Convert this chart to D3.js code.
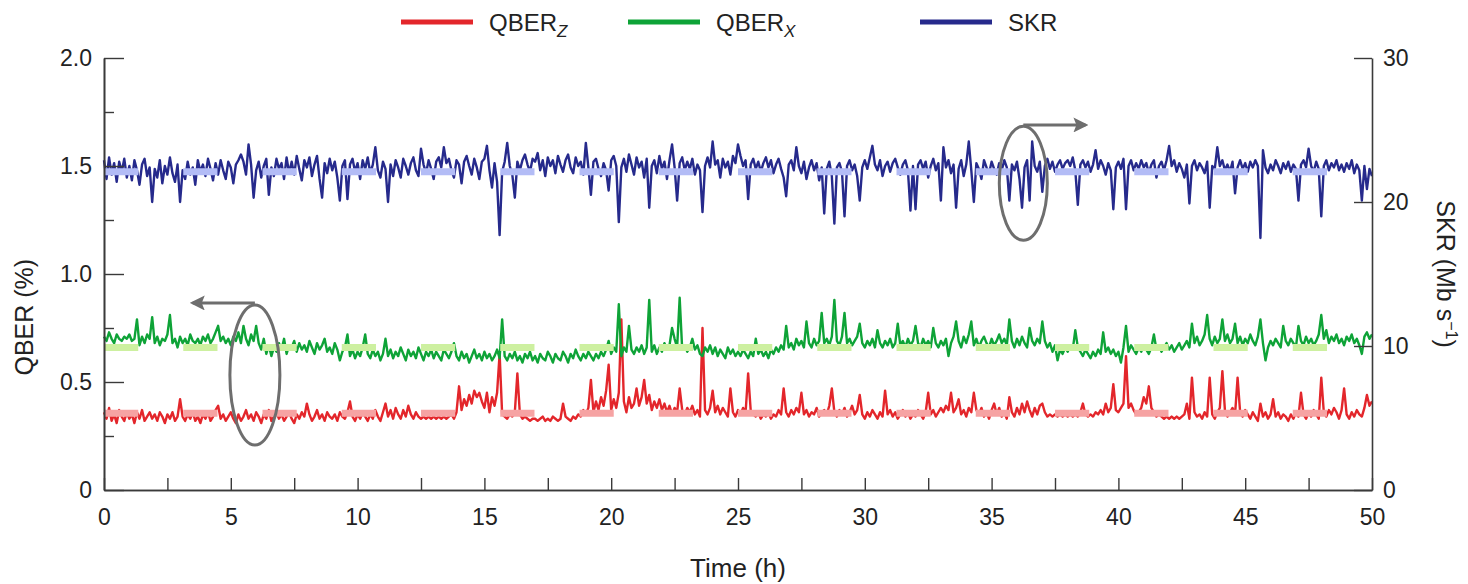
<!DOCTYPE html>
<html>
<head>
<meta charset="utf-8">
<script src="https://cdn.jsdelivr.net/npm/d3@7"></script>
<style>
  body { margin: 0; background: #fff; }
  svg text { font-family: "Liberation Sans", Arial, sans-serif; fill: #222; }
</style>
</head>
<body>
<div id="chart"></div>
<script>
// hours between two samples
const timeStep = 0.1;

// secret key rate, Mb/s (right axis), one row per hour
const skr = [
  22.9, 21.6, 23.1, 21.9, 22.7, 21.4, 22.8, 22.1, 23.0, 21.7,
  22.5, 21.5, 22.9, 22.2, 21.2, 22.6, 23.0, 21.8, 22.4, 20.0,
  22.3, 21.7, 22.9, 21.3, 22.5, 21.9, 23.1, 22.0, 21.4, 22.6,
  20.0, 22.2, 21.6, 22.8, 21.9, 22.4, 21.2, 22.9, 22.1, 22.6,
  21.8, 23.0, 22.3, 21.5, 22.7, 21.9, 22.9, 22.2, 21.6, 22.8,
  22.4, 21.3, 22.6, 22.9, 23.3, 22.8, 21.9, 24.0, 22.6, 20.3,
  22.2, 22.8, 21.7, 22.5, 23.0, 20.5, 22.4, 21.8, 23.0, 22.3,
  22.7, 21.6, 23.1, 22.0, 22.8, 21.9, 23.2, 22.3, 21.5, 22.9,
  22.4, 23.1, 21.8, 22.6, 23.2, 21.6, 20.3, 22.7, 22.0, 23.0,
  22.2, 22.8, 21.7, 20.1, 22.5, 22.9, 20.2, 22.6, 23.0, 22.1,
  22.7, 21.6, 22.9, 22.3, 23.1, 22.0, 22.6, 23.8, 22.2, 21.7,
  22.8, 22.3, 20.0, 22.6, 21.8, 22.9, 22.4, 21.7, 23.0, 22.5,
  21.9, 22.7, 23.1, 22.2, 21.8, 23.7, 22.6, 22.0, 22.9, 22.3,
  21.6, 22.8, 23.1, 22.4, 23.8, 22.7, 23.0, 22.2, 21.7, 22.9,
  22.6, 21.3, 22.8, 23.2, 22.5, 21.9, 23.0, 22.4, 21.6, 22.8,
  23.0, 23.9, 22.2, 21.0, 22.7, 21.4, 17.7, 22.1, 22.8, 24.1,
  22.5, 21.9, 20.3, 22.8, 22.2, 22.9, 23.3, 22.6, 22.1, 23.0,
  22.8, 23.4, 22.2, 22.9, 21.8, 23.1, 22.5, 22.9, 22.0, 23.2,
  22.6, 22.1, 22.9, 23.3, 22.4, 22.0, 23.1, 22.5, 22.8, 21.9,
  24.1, 22.4, 20.5, 22.8, 23.0, 22.3, 21.8, 22.7, 22.2, 20.8,
  22.9, 23.2, 22.5, 18.6, 22.4, 23.0, 22.1, 23.3, 22.6, 21.9,
  23.1, 22.4, 22.8, 21.7, 23.0, 19.6, 22.5, 22.9, 22.0, 23.2,
  22.3, 22.8, 21.6, 22.9, 24.0, 22.4, 20.1, 22.7, 23.1, 22.2,
  22.8, 22.3, 23.0, 21.9, 22.6, 22.2, 19.3, 22.5, 23.1, 22.4,
  24.2, 22.6, 22.9, 21.7, 23.0, 22.4, 22.8, 21.9, 23.2, 22.7,
  24.0, 23.2, 22.5, 22.9, 20.2, 22.6, 23.0, 22.3, 22.8, 22.1,
  22.7, 23.1, 22.4, 22.9, 22.0, 22.6, 23.0, 22.3, 21.7, 20.4,
  22.6, 22.9, 22.2, 23.8, 22.5, 22.0, 22.8, 21.6, 22.4, 22.9,
  22.2, 22.7, 21.5, 22.4, 19.2, 22.3, 22.8, 21.8, 18.5, 22.4,
  22.7, 22.1, 19.0, 22.5, 22.9, 22.2, 22.6, 21.8, 20.1, 22.4,
  22.9, 22.3, 23.1, 23.9, 22.6, 22.2, 22.9, 21.8, 22.5, 22.8,
  22.1, 22.7, 23.0, 22.4, 21.9, 22.6, 22.9, 22.2, 19.4, 22.5,
  19.5, 22.6, 22.9, 22.3, 22.8, 21.7, 22.5, 23.0, 22.2, 22.7,
  20.1, 23.8, 22.4, 22.9, 22.0, 22.6, 19.6, 22.3, 22.9, 21.8,
  22.6, 24.2, 22.2, 20.0, 22.7, 22.3, 21.6, 22.9, 22.4, 22.0,
  22.8, 22.3, 21.9, 22.7, 22.2, 22.9, 22.4, 20.1, 22.6, 22.2,
  22.8, 21.6, 19.6, 22.4, 22.9, 20.1, 24.2, 22.5, 22.1, 22.8,
  20.7, 22.5, 23.0, 22.3, 22.8, 22.1, 22.6, 22.9, 22.3, 22.7,
  22.9, 22.5, 23.1, 22.2, 19.8, 22.6, 22.9, 22.4, 22.8, 22.1,
  22.6, 23.6, 22.3, 22.9, 22.5, 21.9, 22.7, 22.2, 19.5, 22.4,
  22.8, 22.3, 23.0, 19.5, 22.5, 22.9, 22.2, 22.7, 22.3, 22.9,
  22.4, 22.7, 22.0, 22.6, 22.9, 21.7, 22.5, 22.8, 22.2, 22.9,
  23.9, 22.5, 22.9, 22.1, 22.7, 22.3, 21.7, 22.6, 19.9, 22.5,
  22.9, 22.2, 22.7, 22.4, 22.0, 22.8, 19.6, 22.5, 22.3, 23.8,
  22.5, 22.9, 22.2, 22.6, 22.1, 22.8, 20.6, 22.4, 22.9, 22.3,
  22.7, 22.1, 22.8, 22.4, 22.9, 22.5, 17.5, 23.6, 22.4, 22.0,
  22.6, 22.2, 22.9, 22.5, 22.0, 22.7, 22.3, 22.8, 22.1, 22.6,
  22.3, 20.1, 22.6, 22.9, 22.4, 23.7, 22.5, 22.1, 22.8, 22.3,
  19.0, 22.5, 22.9, 22.2, 22.7, 22.4, 22.9, 22.2, 22.6, 22.1,
  22.7, 22.3, 22.9, 22.0, 22.6, 22.2, 20.1, 22.5, 20.9, 22.3,
  21.8
];

// QBER in the X basis, %
const qberX = [
  0.71, 0.69, 0.73, 0.70, 0.68, 0.72, 0.70, 0.69, 0.71, 0.70,
  0.72, 0.69, 0.70, 0.79, 0.67, 0.71, 0.68, 0.72, 0.70, 0.80,
  0.68, 0.71, 0.67, 0.70, 0.69, 0.72, 0.81, 0.68, 0.70, 0.66,
  0.71, 0.68, 0.70, 0.67, 0.72, 0.69, 0.68, 0.70, 0.67, 0.71,
  0.69, 0.72, 0.68, 0.70, 0.73, 0.76, 0.69, 0.71, 0.68, 0.70,
  0.67, 0.71, 0.69, 0.73, 0.68, 0.76, 0.70, 0.67, 0.72, 0.69,
  0.76, 0.68, 0.65, 0.70, 0.63, 0.67, 0.62, 0.66, 0.64, 0.68,
  0.65, 0.70, 0.63, 0.67, 0.66, 0.69, 0.64, 0.68, 0.65, 0.67,
  0.64, 0.69, 0.66, 0.63, 0.68, 0.65, 0.67, 0.70, 0.64, 0.66,
  0.63, 0.68, 0.65, 0.60, 0.64, 0.66, 0.72, 0.62, 0.65, 0.61,
  0.64, 0.62, 0.66, 0.72, 0.63, 0.61, 0.65, 0.62, 0.64, 0.60,
  0.63, 0.70, 0.62, 0.65, 0.61, 0.64, 0.62, 0.66, 0.63, 0.60,
  0.65, 0.62, 0.64, 0.61, 0.66, 0.63, 0.60, 0.64, 0.62, 0.65,
  0.61, 0.64, 0.62, 0.60, 0.65, 0.63, 0.61, 0.64, 0.68, 0.62,
  0.60, 0.64, 0.61, 0.63, 0.59, 0.62, 0.65, 0.61, 0.63, 0.60,
  0.64, 0.61, 0.63, 0.60, 0.62, 0.65, 0.61, 0.79, 0.62, 0.60,
  0.63, 0.61, 0.64, 0.60, 0.62, 0.59, 0.63, 0.61, 0.64, 0.60,
  0.62, 0.59, 0.63, 0.61, 0.60, 0.64, 0.62, 0.59, 0.63, 0.61,
  0.60, 0.64, 0.62, 0.59, 0.63, 0.61, 0.65, 0.62, 0.60, 0.63,
  0.61, 0.64, 0.62, 0.60, 0.63, 0.61, 0.64, 0.62, 0.65, 0.69,
  0.63, 0.66, 0.64, 0.86, 0.62, 0.66, 0.64, 0.76, 0.65, 0.63,
  0.66, 0.64, 0.67, 0.63, 0.66, 0.88, 0.64, 0.67, 0.63, 0.66,
  0.64, 0.68, 0.65, 0.67, 0.75, 0.70, 0.66, 0.89, 0.65, 0.67,
  0.64, 0.66, 0.70, 0.65, 0.67, 0.63, 0.62, 0.66, 0.64, 0.67,
  0.63, 0.66, 0.62, 0.65, 0.63, 0.61, 0.66, 0.63, 0.65, 0.62,
  0.64, 0.62, 0.65, 0.63, 0.61, 0.64, 0.62, 0.70, 0.63, 0.65,
  0.62, 0.64, 0.61, 0.65, 0.63, 0.66, 0.64, 0.67, 0.65, 0.76,
  0.66, 0.68, 0.65, 0.70, 0.67, 0.69, 0.66, 0.78, 0.68, 0.66,
  0.70, 0.67, 0.69, 0.82, 0.68, 0.70, 0.67, 0.71, 0.88, 0.69,
  0.67, 0.71, 0.82, 0.68, 0.70, 0.67, 0.69, 0.71, 0.77, 0.68,
  0.66, 0.69, 0.67, 0.70, 0.66, 0.74, 0.68, 0.66, 0.69, 0.67,
  0.70, 0.66, 0.68, 0.77, 0.67, 0.69, 0.66, 0.70, 0.67, 0.69,
  0.76, 0.68, 0.66, 0.70, 0.67, 0.69, 0.66, 0.75, 0.68, 0.66,
  0.69, 0.67, 0.70, 0.62, 0.68, 0.71, 0.78, 0.69, 0.66, 0.71,
  0.68, 0.72, 0.78, 0.67, 0.70, 0.66, 0.69, 0.71, 0.68, 0.66,
  0.70, 0.67, 0.69, 0.72, 0.68, 0.70, 0.67, 0.79, 0.69, 0.66,
  0.70, 0.67, 0.71, 0.68, 0.66, 0.75, 0.69, 0.67, 0.70, 0.68,
  0.78, 0.69, 0.66, 0.68, 0.64, 0.67, 0.60, 0.65, 0.63, 0.66,
  0.64, 0.67, 0.65, 0.74, 0.66, 0.64, 0.62, 0.65, 0.63, 0.61,
  0.64, 0.62, 0.65, 0.63, 0.73, 0.64, 0.66, 0.63, 0.65, 0.62,
  0.64, 0.59, 0.66, 0.76, 0.64, 0.67, 0.65, 0.63, 0.66, 0.64,
  0.67, 0.65, 0.63, 0.66, 0.72, 0.65, 0.67, 0.64, 0.66, 0.68,
  0.65, 0.67, 0.64, 0.66, 0.68, 0.65, 0.67, 0.69, 0.66, 0.77,
  0.68, 0.71, 0.67, 0.69, 0.72, 0.81, 0.70, 0.67, 0.71, 0.68,
  0.70, 0.79, 0.69, 0.72, 0.68, 0.70, 0.77, 0.68, 0.71, 0.67,
  0.70, 0.68, 0.72, 0.69, 0.67, 0.71, 0.79, 0.68, 0.60, 0.66,
  0.69, 0.67, 0.70, 0.68, 0.66, 0.76, 0.69, 0.67, 0.70, 0.68,
  0.66, 0.76, 0.69, 0.67, 0.71, 0.68, 0.70, 0.67, 0.69, 0.72,
  0.81, 0.70, 0.74, 0.68, 0.71, 0.69, 0.72, 0.68, 0.70, 0.67,
  0.71, 0.69, 0.72, 0.68, 0.70, 0.67, 0.63, 0.71, 0.73, 0.70,
  0.72
];

// QBER in the Z basis, %
const qberZ = [
  0.36, 0.33, 0.38, 0.32, 0.35, 0.31, 0.37, 0.34, 0.32, 0.36,
  0.33, 0.35, 0.31, 0.36, 0.33, 0.37, 0.32, 0.34, 0.36, 0.33,
  0.35, 0.32, 0.36, 0.34, 0.31, 0.35, 0.33, 0.36, 0.32, 0.34,
  0.42, 0.34, 0.32, 0.35, 0.33, 0.36, 0.32, 0.34, 0.31, 0.35,
  0.33, 0.36, 0.32, 0.34, 0.37, 0.39, 0.33, 0.35, 0.32, 0.34,
  0.36, 0.33, 0.31, 0.35, 0.32, 0.34, 0.37, 0.33, 0.35, 0.32,
  0.36, 0.34, 0.31, 0.35, 0.33, 0.37, 0.32, 0.34, 0.36, 0.33,
  0.35, 0.32, 0.34, 0.36, 0.33, 0.31, 0.35, 0.33, 0.36, 0.34,
  0.40, 0.35, 0.32, 0.34, 0.37, 0.33, 0.35, 0.32, 0.36, 0.34,
  0.33, 0.35, 0.32, 0.36, 0.34, 0.33, 0.36, 0.41, 0.34, 0.32,
  0.35, 0.33, 0.36, 0.34, 0.32, 0.35, 0.33, 0.37, 0.34, 0.32,
  0.36, 0.40, 0.34, 0.37, 0.33, 0.38, 0.35, 0.33, 0.37, 0.34,
  0.39, 0.35, 0.33, 0.36, 0.34, 0.33, 0.34, 0.33, 0.34, 0.33,
  0.34, 0.33, 0.34, 0.33, 0.34, 0.33, 0.34, 0.35, 0.33, 0.36,
  0.48, 0.37, 0.42, 0.39, 0.44, 0.40, 0.46, 0.43, 0.45, 0.41,
  0.38, 0.45, 0.36, 0.43, 0.39, 0.45, 0.63, 0.35, 0.34, 0.33,
  0.35, 0.34, 0.36, 0.54, 0.35, 0.33, 0.34, 0.33, 0.32, 0.33,
  0.33, 0.32, 0.33, 0.34, 0.32, 0.33, 0.32, 0.34, 0.33, 0.32,
  0.33, 0.40, 0.34, 0.33, 0.32, 0.34, 0.33, 0.35, 0.34, 0.37,
  0.35, 0.38, 0.51, 0.36, 0.41, 0.37, 0.43, 0.39, 0.46, 0.58,
  0.37, 0.42, 0.38, 0.45, 0.79, 0.41, 0.36, 0.43, 0.38, 0.40,
  0.47, 0.39, 0.43, 0.51, 0.40, 0.44, 0.37, 0.41, 0.38, 0.42,
  0.37, 0.40, 0.36, 0.39, 0.35, 0.38, 0.36, 0.47, 0.37, 0.35,
  0.38, 0.36, 0.39, 0.35, 0.37, 0.34, 0.75, 0.37, 0.35, 0.38,
  0.46, 0.36, 0.39, 0.35, 0.38, 0.36, 0.34, 0.47, 0.36, 0.34,
  0.37, 0.35, 0.38, 0.36, 0.54, 0.37, 0.35, 0.34, 0.36, 0.33,
  0.35, 0.34, 0.36, 0.33, 0.35, 0.34, 0.37, 0.35, 0.47, 0.36,
  0.34, 0.37, 0.35, 0.38, 0.36, 0.45, 0.35, 0.37, 0.34, 0.36,
  0.35, 0.38, 0.34, 0.36, 0.37, 0.35, 0.39, 0.47, 0.36, 0.34,
  0.37, 0.35, 0.38, 0.34, 0.36, 0.39, 0.35, 0.37, 0.44, 0.35,
  0.33, 0.36, 0.34, 0.37, 0.35, 0.33, 0.36, 0.34, 0.46, 0.35,
  0.37, 0.34, 0.36, 0.33, 0.35, 0.37, 0.34, 0.36, 0.33, 0.35,
  0.34, 0.37, 0.35, 0.33, 0.36, 0.45, 0.35, 0.37, 0.34, 0.36,
  0.38, 0.36, 0.39, 0.37, 0.45, 0.36, 0.38, 0.42, 0.35, 0.37,
  0.34, 0.38, 0.36, 0.45, 0.37, 0.35, 0.38, 0.34, 0.36, 0.33,
  0.37, 0.40, 0.35, 0.38, 0.34, 0.36, 0.33, 0.43, 0.36, 0.34,
  0.38, 0.35, 0.40, 0.36, 0.41, 0.37, 0.34, 0.38, 0.35, 0.39,
  0.40, 0.36, 0.34, 0.35, 0.34, 0.35, 0.34, 0.35, 0.34, 0.35,
  0.34, 0.35, 0.34, 0.35, 0.34, 0.36, 0.40, 0.35, 0.34, 0.35,
  0.34, 0.36, 0.35, 0.37, 0.35, 0.40, 0.36, 0.38, 0.49, 0.37,
  0.36, 0.38, 0.40, 0.62, 0.38, 0.40, 0.37, 0.35, 0.36, 0.38,
  0.43, 0.40, 0.48, 0.38, 0.36, 0.34, 0.35, 0.34, 0.33, 0.34,
  0.33, 0.34, 0.33, 0.34, 0.33, 0.34, 0.35, 0.40, 0.33, 0.52,
  0.36, 0.34, 0.35, 0.33, 0.36, 0.34, 0.52, 0.35, 0.33, 0.36,
  0.38, 0.55, 0.37, 0.34, 0.36, 0.38, 0.35, 0.52, 0.36, 0.34,
  0.37, 0.35, 0.33, 0.36, 0.34, 0.32, 0.40, 0.34, 0.36, 0.33,
  0.35, 0.42, 0.34, 0.36, 0.33, 0.35, 0.34, 0.32, 0.35, 0.33,
  0.36, 0.34, 0.45, 0.35, 0.33, 0.36, 0.34, 0.37, 0.35, 0.33,
  0.52, 0.36, 0.34, 0.37, 0.35, 0.38, 0.36, 0.33, 0.37, 0.47,
  0.35, 0.33, 0.36, 0.34, 0.37, 0.35, 0.34, 0.38, 0.44, 0.39,
  0.41
];

// light bars: start of each averaging window (h), its length and mean levels
const windowStarts = [0, 3.125, 6.25, 9.375, 12.5, 15.625, 18.75, 21.875,
                      25, 28.125, 31.25, 34.375, 37.5, 40.625, 43.75, 46.875];
const windowLength = 1.35;
const skrMean = 22.1;
const qberXMean = 0.66;
const qberZMean = 0.355;

const xTicks = [0, 5, 10, 15, 20, 25, 30, 35, 40, 45, 50];
const xMinorTicks = [2.5, 7.5, 12.5, 17.5, 22.5, 27.5, 32.5, 37.5, 42.5, 47.5];
const qberTicks = [0, 0.5, 1.0, 1.5, 2.0];
const qberMinorTicks = [0.25, 0.75, 1.25, 1.75];
const skrTicks = [0, 10, 20, 30];

const width = 1468, height = 584;
const margin = {top: 58, right: 96, bottom: 94, left: 104};
const innerW = width - margin.left - margin.right;
const innerH = height - margin.top - margin.bottom;

const svg = d3.select("#chart").append("svg")
    .attr("width", width)
    .attr("height", height);

const g = svg.append("g")
    .attr("transform", "translate(" + margin.left + "," + margin.top + ")");

const x = d3.scaleLinear().domain([0, 50]).range([0, innerW]);
const yL = d3.scaleLinear().domain([0, 2]).range([innerH, 0]);
const yR = d3.scaleLinear().domain([0, 30]).range([innerH, 0]);

const axisColor = "#3a3a3a";

// series
function drawSeries(values, scale, color) {
    const line = d3.line()
        .x(function(d, i) { return x(i * timeStep); })
        .y(function(d) { return scale(d); });
    g.append("path")
        .datum(values)
        .attr("fill", "none")
        .attr("stroke", color)
        .attr("stroke-width", 2.4)
        .attr("stroke-linejoin", "round")
        .attr("d", line);
}

drawSeries(qberZ, yL, "#e3262b");
drawSeries(qberX, yL, "#0ea337");
drawSeries(skr, yR, "#262a8c");

// averaged windows on top of the traces
function drawWindows(level, scale, color) {
    g.selectAll(null)
        .data(windowStarts)
        .enter()
        .append("line")
        .attr("x1", function(d) { return x(d); })
        .attr("x2", function(d) { return x(d + windowLength); })
        .attr("y1", scale(level))
        .attr("y2", scale(level))
        .attr("stroke", color)
        .attr("stroke-width", 7);
}

drawWindows(qberZMean, yL, "#f6a3a3");
drawWindows(qberXMean, yL, "#cdf0a0");
drawWindows(skrMean, yR, "#b3bcf6");

// axes
const bottomMinor = g.append("g")
    .attr("transform", "translate(0," + innerH + ")")
    .call(d3.axisBottom(x).tickValues(xMinorTicks).tickSize(-12).tickSizeOuter(0).tickFormat(""));
const bottom = g.append("g")
    .attr("transform", "translate(0," + innerH + ")")
    .call(d3.axisBottom(x).tickValues(xTicks).tickSize(-12).tickSizeOuter(0).tickPadding(19)
        .tickFormat(d3.format("d")));

const leftMinor = g.append("g")
    .call(d3.axisLeft(yL).tickValues(qberMinorTicks).tickSize(-10).tickSizeOuter(0).tickFormat(""));
const left = g.append("g")
    .call(d3.axisLeft(yL).tickValues(qberTicks).tickSize(-20).tickSizeOuter(0).tickPadding(12)
        .tickFormat(function(d) { return d === 0 ? "0" : d3.format(".1f")(d); }));

const right = g.append("g")
    .attr("transform", "translate(" + innerW + ",0)")
    .call(d3.axisRight(yR).tickValues(skrTicks).tickSize(-18).tickSizeOuter(0).tickPadding(11)
        .tickFormat(d3.format("d")));

[bottomMinor, bottom, leftMinor, left, right].forEach(function(a) {
    a.selectAll("path").attr("stroke", axisColor).attr("stroke-width", 1.6);
    a.selectAll("line").attr("stroke", axisColor).attr("stroke-width", 1.4);
    a.selectAll("text").attr("font-size", 23).attr("fill", "#222")
        .attr("font-family", "'Liberation Sans', Arial, sans-serif");
});

// axis titles
svg.append("text")
    .attr("x", margin.left + innerW / 2)
    .attr("y", 577)
    .attr("text-anchor", "middle")
    .attr("font-size", 26)
    .text("Time (h)");

svg.append("text")
    .attr("transform", "translate(33," + (margin.top + yL(0.8)) + ") rotate(-90)")
    .attr("text-anchor", "middle")
    .attr("font-size", 25)
    .text("QBER (%)");

const rightTitle = svg.append("text")
    .attr("transform", "translate(1437," + (margin.top + yR(15)) + ") rotate(90)")
    .attr("text-anchor", "middle")
    .attr("font-size", 25);
rightTitle.append("tspan").text("SKR (Mb s");
rightTitle.append("tspan").attr("dy", -9).attr("font-size", 16).text("\u22121");
rightTitle.append("tspan").attr("dy", 9).text(")");

// annotation ellipses with arrows pointing to the matching axis
const annotations = [
    {t: 5.95, v: 0.532, scale: yL, rx: 25, ry: 70, arrowV: 0.866, arrowT: 3.5},
    {t: 36.25, v: 21.3, scale: yR, rx: 24, ry: 57, arrowV: 25.35, arrowT: 38.7}
];

svg.append("defs").append("marker")
    .attr("id", "arrowhead")
    .attr("viewBox", "0 0 10 10")
    .attr("refX", 8).attr("refY", 5)
    .attr("markerWidth", 5).attr("markerHeight", 5)
    .attr("orient", "auto")
    .append("path")
    .attr("d", "M0,0 L10,5 L0,10 L2,5 Z")
    .attr("fill", "#6e6e6e");

annotations.forEach(function(a) {
    const cx = x(a.t), cy = a.scale(a.v);
    g.append("ellipse")
        .attr("cx", cx).attr("cy", cy)
        .attr("rx", a.rx).attr("ry", a.ry)
        .attr("fill", "none")
        .attr("stroke", "#6e6e6e")
        .attr("stroke-width", 3);
    g.append("line")
        .attr("x1", cx).attr("y1", a.scale(a.arrowV))
        .attr("x2", x(a.arrowT)).attr("y2", a.scale(a.arrowV))
        .attr("stroke", "#6e6e6e")
        .attr("stroke-width", 3)
        .attr("marker-end", "url(#arrowhead)");
});

// legend
const legendItems = [
    {name: "QBER", sub: "Z", color: "#e3262b", x: 401},
    {name: "QBER", sub: "X", color: "#0ea337", x: 628},
    {name: "SKR", sub: "", color: "#262a8c", x: 920}
];

const legend = svg.append("g");
legendItems.forEach(function(item) {
    legend.append("line")
        .attr("x1", item.x).attr("x2", item.x + 72)
        .attr("y1", 22).attr("y2", 22)
        .attr("stroke", item.color)
        .attr("stroke-width", 5);
    const t = legend.append("text")
        .attr("x", item.x + 88)
        .attr("y", 31)
        .attr("font-size", 24)
        .text(item.name);
    if (item.sub) {
        t.append("tspan")
            .attr("dy", 6)
            .attr("font-size", 17)
            .attr("font-style", "italic")
            .text(item.sub);
    }
});
</script>
</body>
</html>
